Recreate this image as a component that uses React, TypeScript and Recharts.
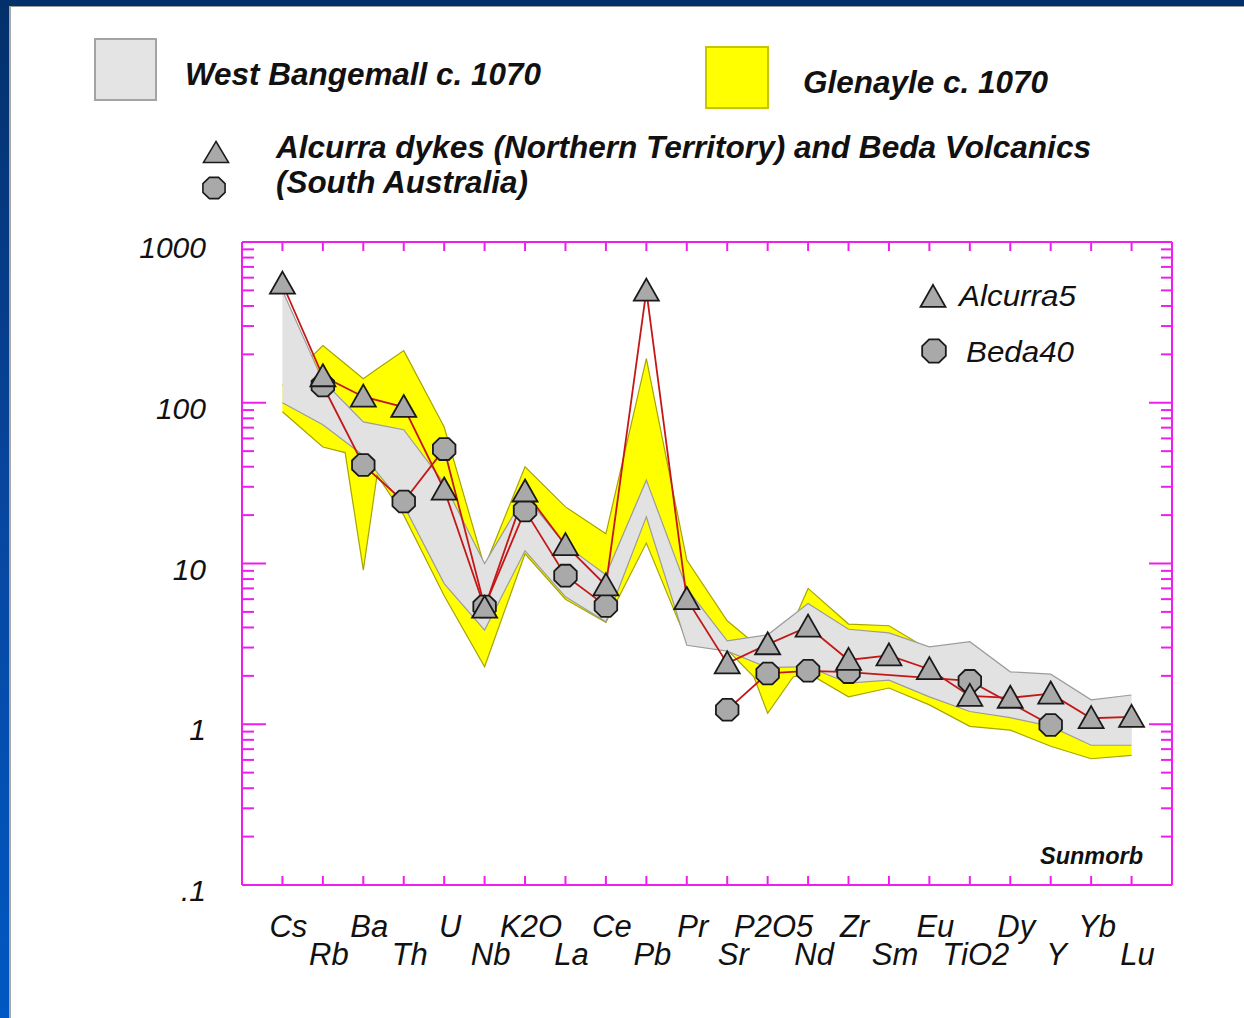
import React from 'react';
import { ComposedChart, Area, Line, XAxis, YAxis } from 'recharts';

const FONT = "'Liberation Sans', Arial, Helvetica, sans-serif";
const MAGENTA = '#ee1fee';
const RED = '#c41818';
const MARK_FILL = '#a9a9a9';
const MARK_STROKE = '#1a1a1a';

// ---- categories (Sunmorb normalised spider diagram) ----
const categories = ['Cs', 'Rb', 'Ba', 'Th', 'U', 'Nb', 'K2O', 'La', 'Ce', 'Pb', 'Pr', 'Sr', 'P2O5', 'Nd', 'Zr', 'Sm', 'Eu', 'TiO2', 'Dy', 'Y', 'Yb', 'Lu'];
const categoryPositions = [1, 2, 3, 4, 5, 6, 7, 8, 9, 10, 11, 12, 13, 14, 15, 16, 17, 18, 19, 20, 21, 22];

// ---- samples ----
const alcurra5 = [550, 146, 109, 94, 28.8, 5.3, 28, 13, 7.3, 498, 6.0, 2.39, 3.14, 4.04, 2.51, 2.68, 2.2, 1.5, 1.46, 1.55, 1.09, 1.11];
const beda40 = [null, 128, 41, 24.3, 51.5, 5.4, 21.4, 8.4, 5.45, null, null, 1.23, 2.07, 2.15, 2.11, null, null, 1.86, null, 0.99, null, null];
const bedaFirstRunEnd = 8;    // Ce
const bedaSecondRunStart = 11; // Sr

// ---- West Bangemall field (grey) ----
const westBangemallHigh = [500, 137, 76, 68, 31.5, 10, 26.5, 13, 8.5, 33, 7, 3.3, 3.6, 5.63, 3.9, 3.7, 3.03, 3.26, 2.12, 2.05, 1.42, 1.52];
const westBangemallLow = [100, 73, 47, 23, 7.5, 3.85, 12, 6.2, 4.34, 19.5, 3.1, 2.85, 2.25, 2.28, 1.8, 1.88, 1.48, 1.2, 1.1, 0.97, 0.74, 0.74];

// ---- Glenayle field (yellow) envelope vertices ----
const glenayleX = [1, 2, 2.55, 3, 3.34, 4, 5, 6, 7, 8, 9, 10, 11, 12, 12.66, 13, 13.63, 14, 15, 16, 17, 18, 19, 20, 21, 22];
const glenayleHigh = [128, 227, 175, 141, 162, 211, 70.6, 9.5, 40, 22.5, 15.3, 188, 10.5, 4.4, 3.2, 3.0, 4.3, 7.0, 4.2, 4.1, 2.9, 2.6, 1.9, 1.8, 1.3, 1.35];
const glenayleLow = [88, 53, 49, 9.1, 35.4, 20, 6.3, 2.28, 11.5, 6.0, 4.3, 13.4, 3.3, 2.9, 1.97, 1.17, 1.97, 2.08, 1.48, 1.68, 1.32, 0.97, 0.92, 0.73, 0.61, 0.64];

// ---- y axis ----
const yTicks = [0.1, 0.2, 0.3, 0.4, 0.5, 0.6, 0.7, 0.8, 0.9, 1, 2, 3, 4, 5, 6, 7, 8, 9, 10, 20, 30, 40, 50, 60, 70, 80, 90, 100, 200, 300, 400, 500, 600, 700, 800, 900, 1000];
const yMajor = [0.1, 1, 10, 100, 1000];
const yMajorLabels = ['.1', '1', '10', '100', '1000'];

const lineData = categories.map((c, i) => ({
  x: categoryPositions[i],
  alcurra: alcurra5[i],
  bedaA: i <= bedaFirstRunEnd ? beda40[i] : null,
  bedaB: i >= bedaSecondRunStart ? beda40[i] : null,
}));
const greyData = categories.map((c, i) => ({ x: categoryPositions[i], range: [westBangemallLow[i], westBangemallHigh[i]] }));
const yellowData = glenayleX.map((x, i) => ({ x, range: [glenayleLow[i], glenayleHigh[i]] }));

const triPath = (cx: number, cy: number, w: number, h: number) =>
  `M${cx},${cy - h * 0.55} L${cx + w / 2},${cy + h * 0.45} L${cx - w / 2},${cy + h * 0.45} Z`;
const octPath = (cx: number, cy: number, rx: number, ry: number) => {
  const pts: string[] = [];
  for (let k = 0; k < 8; k++) {
    const a = (Math.PI / 8) + (k * Math.PI) / 4;
    pts.push(`${cx + rx * Math.cos(a)},${cy + ry * Math.sin(a)}`);
  }
  return 'M' + pts.join(' L') + ' Z';
};

const renderTri = (props: any) => {
  const { cx, cy, index, value } = props;
  if (cx == null || cy == null || value == null || isNaN(cy)) return <g key={`t-${index}`} />;
  return <path key={`t-${index}`} d={triPath(cx, cy, 25, 22)} fill={MARK_FILL} stroke={MARK_STROKE} strokeWidth={1.8} strokeLinejoin="miter" />;
};
const makeOct = (prefix: string) => (props: any) => {
  const { cx, cy, index, value } = props;
  if (cx == null || cy == null || value == null || isNaN(cy)) return <g key={`${prefix}-${index}`} />;
  return <path key={`${prefix}-${index}`} d={octPath(cx, cy, 12.2, 11.8)} fill={MARK_FILL} stroke={MARK_STROKE} strokeWidth={1.8} />;
};

const LeftTick = (props: any) => {
  const { x, y, payload } = props;
  const mi = yMajor.indexOf(payload.value);
  const major = mi >= 0;
  return (
    <g>
      <line x1={x} y1={y} x2={x + (major ? 24 : 12)} y2={y} stroke={MAGENTA} strokeWidth={2} />
      {major && (
        <text x={x - 36} y={y + 16} textAnchor="end" fontFamily={FONT} fontStyle="italic" fontSize={30} fill="#111">
          {yMajorLabels[mi]}
        </text>
      )}
    </g>
  );
};
const RightTick = (props: any) => {
  const { x, y, payload } = props;
  const major = yMajor.indexOf(payload.value) >= 0;
  return <line x1={x} y1={y} x2={x - (major ? 23 : 11)} y2={y} stroke={MAGENTA} strokeWidth={2} />;
};
const BottomTick = (props: any) => {
  const { x, y, payload } = props;
  const i = categoryPositions.indexOf(payload.value);
  const upper = i % 2 === 0;
  return (
    <g>
      <line x1={x} y1={y} x2={x} y2={y - 9} stroke={MAGENTA} strokeWidth={2} />
      {i >= 0 && (
        <text x={x + 6} y={y + (upper ? 52 : 80)} textAnchor="middle" fontFamily={FONT} fontStyle="italic" fontSize={31} fill="#111">
          {categories[i]}
        </text>
      )}
    </g>
  );
};
const TopTick = (props: any) => {
  const { x, y } = props;
  return <line x1={x} y1={y} x2={x} y2={y + 9} stroke={MAGENTA} strokeWidth={2} />;
};

export default function App() {
  return (
    <div style={{ position: 'absolute', left: 0, top: 0, width: 1244, height: 1018, background: '#ffffff', overflow: 'hidden' }}>
      <ComposedChart width={1244} height={1018} margin={{ top: 241, right: 0, bottom: 0, left: 0 }}>
        <XAxis xAxisId={0} dataKey="x" type="number" domain={[0, 23]} allowDataOverflow ticks={categoryPositions} interval={0}
          orientation="bottom" height={133} tickSize={0} tickMargin={0} tickLine={false}
          axisLine={{ stroke: MAGENTA, strokeWidth: 2 }} tick={<BottomTick />} />
        <XAxis xAxisId="t" dataKey="x" type="number" domain={[0, 23]} allowDataOverflow ticks={categoryPositions} interval={0}
          orientation="top" height={1} tickSize={0} tickMargin={0} tickLine={false}
          axisLine={{ stroke: MAGENTA, strokeWidth: 2 }} tick={<TopTick />} />
        <YAxis yAxisId={0} type="number" scale="log" domain={[0.1, 1000]} allowDataOverflow ticks={yTicks} interval={0}
          orientation="left" width={242} tickSize={0} tickMargin={0} tickLine={false}
          axisLine={{ stroke: MAGENTA, strokeWidth: 2 }} tick={<LeftTick />} />
        <YAxis yAxisId="r" type="number" scale="log" domain={[0.1, 1000]} allowDataOverflow ticks={yTicks} interval={0}
          orientation="right" width={72} tickSize={0} tickMargin={0} tickLine={false}
          axisLine={{ stroke: MAGENTA, strokeWidth: 2 }} tick={<RightTick />} />

        <Area data={yellowData} dataKey="range" type="linear" fill="#ffff00" fillOpacity={1} stroke="#a8a400" strokeWidth={1.2}
          isAnimationActive={false} dot={false} activeDot={false} />
        <Area data={greyData} dataKey="range" type="linear" fill="#e2e2e2" fillOpacity={1} stroke="#9c9c9c" strokeWidth={1.2}
          isAnimationActive={false} dot={false} activeDot={false} />

        <Line data={lineData} dataKey="bedaA" type="linear" stroke={RED} strokeWidth={1.8} connectNulls isAnimationActive={false} dot={makeOct('ba')} activeDot={false} />
        <Line data={lineData} dataKey="bedaB" type="linear" stroke={RED} strokeWidth={1.8} connectNulls isAnimationActive={false} dot={makeOct('bb')} activeDot={false} />
        <Line data={lineData} dataKey="alcurra" type="linear" stroke={RED} strokeWidth={1.8} connectNulls isAnimationActive={false} dot={renderTri} activeDot={false} />
      </ComposedChart>

      {/* legends and annotations */}
      <svg width={1244} height={1018} style={{ position: 'absolute', left: 0, top: 0, pointerEvents: 'none' }}>
        <rect x={95} y={39} width={61} height={61} fill="#e4e4e4" stroke="#a3a3a3" strokeWidth={2} />
        <text x={185} y={85} fontFamily={FONT} fontStyle="italic" fontWeight="bold" fontSize={31} textLength={356} lengthAdjust="spacingAndGlyphs" fill="#111">West Bangemall c. 1070</text>
        <rect x={706} y={47} width={62} height={61} fill="#ffff00" stroke="#c9c400" strokeWidth={2} />
        <text x={803} y={93} fontFamily={FONT} fontStyle="italic" fontWeight="bold" fontSize={31} textLength={245} lengthAdjust="spacingAndGlyphs" fill="#111">Glenayle c. 1070</text>

        <path d={triPath(216, 153, 25, 21)} fill={MARK_FILL} stroke={MARK_STROKE} strokeWidth={1.6} />
        <path d={octPath(214, 188, 12, 11.5)} fill={MARK_FILL} stroke={MARK_STROKE} strokeWidth={1.6} />
        <text x={276} y={158} fontFamily={FONT} fontStyle="italic" fontWeight="bold" fontSize={31} textLength={815} lengthAdjust="spacingAndGlyphs" fill="#111">Alcurra dykes (Northern Territory) and Beda Volcanics</text>
        <text x={276} y={193} fontFamily={FONT} fontStyle="italic" fontWeight="bold" fontSize={31} textLength={252} lengthAdjust="spacingAndGlyphs" fill="#111">(South Australia)</text>

        <path d={triPath(933, 297, 25, 22)} fill={MARK_FILL} stroke={MARK_STROKE} strokeWidth={1.8} />
        <text x={959} y={306} fontFamily={FONT} fontStyle="italic" fontSize={30} textLength={117} lengthAdjust="spacingAndGlyphs" fill="#111">Alcurra5</text>
        <path d={octPath(934, 351, 12.8, 12.5)} fill={MARK_FILL} stroke={MARK_STROKE} strokeWidth={1.8} />
        <text x={966} y={362} fontFamily={FONT} fontStyle="italic" fontSize={30} textLength={108} lengthAdjust="spacingAndGlyphs" fill="#111">Beda40</text>

        <text x={1040} y={864} fontFamily={FONT} fontStyle="italic" fontWeight="bold" fontSize={23} textLength={103} lengthAdjust="spacingAndGlyphs" fill="#111">Sunmorb</text>
      </svg>

      {/* slide frame */}
      <div style={{ position: 'absolute', left: 0, top: 0, width: 1244, height: 6, background: '#03306a' }} />
      <div style={{ position: 'absolute', left: 0, top: 6, width: 1244, height: 1, background: '#9a9a9a' }} />
      <div style={{ position: 'absolute', left: 0, top: 0, width: 9, height: 1018, background: 'linear-gradient(to bottom, #03306a 0%, #0846a0 50%, #0058c2 100%)' }} />
      <div style={{ position: 'absolute', left: 9, top: 6, width: 2, height: 1012, background: '#a8a8a8' }} />
    </div>
  );
}
